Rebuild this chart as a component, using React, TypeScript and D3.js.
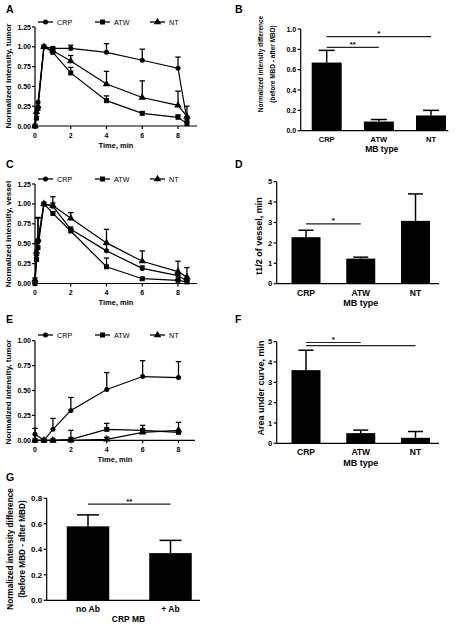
import React from "react";
import * as d3 from "d3";

const FONT = "'Liberation Sans', Arial, Helvetica, sans-serif";

// ---------- line panels (A, C, E) ----------
const seriesNames = ["CRP", "ATW", "NT"];
const seriesShapes = ["circle", "square", "triangle"];
const timeTicks = [0, 2, 4, 6, 8];

const timesAC = [0, 0.083, 0.167, 0.5, 1, 2, 4, 6, 8, 8.5];

// A: tumor
const tumorCRP = [0.0, 0.17, 0.3, 1.0, 0.98, 0.98, 0.93, 0.83, 0.73, 0.08];
const tumorCRPErr = [0, 0, 0, 0, 0.02, 0.04, 0.11, 0.14, 0.14, 0.04];
const tumorATW = [0.0, 0.1, 0.22, 1.0, 0.93, 0.67, 0.32, 0.16, 0.11, 0.03];
const tumorATWErr = [0, 0, 0, 0, 0.01, 0.07, 0.06, 0.02, 0.03, 0.02];
const tumorNT = [0.0, 0.18, 0.25, 1.0, 0.95, 0.82, 0.53, 0.36, 0.26, 0.12];
const tumorNTErr = [0, 0, 0, 0, 0.02, 0.07, 0.16, 0.21, 0.18, 0.13];

// C: vessel
const vesselCRP = [0.02, 0.31, 0.52, 1.0, 0.97, 0.68, 0.41, 0.19, 0.1, 0.03];
const vesselCRPErr = [0, 0.05, 0.3, 0, 0.04, 0.03, 0.08, 0.03, 0.02, 0.02];
const vesselATW = [0.0, 0.3, 0.45, 1.0, 0.88, 0.66, 0.21, 0.06, 0.04, 0.02];
const vesselATWErr = [0, 0.05, 0.1, 0, 0.02, 0.02, 0.11, 0.01, 0.01, 0.01];
const vesselNT = [0.05, 0.4, 0.55, 1.0, 0.98, 0.82, 0.51, 0.28, 0.15, 0.08];
const vesselNTErr = [0.02, 0.1, 0.28, 0, 0.11, 0.07, 0.17, 0.13, 0.13, 0.12];

// E: tumor (accumulation)
const timesE = [0, 0.5, 1, 2, 4, 6, 8];
const accCRP = [0.06, 0.0, 0.11, 0.3, 0.51, 0.64, 0.63];
const accCRPErr = [0.06, 0, 0.11, 0.13, 0.17, 0.16, 0.16];
const accATW = [0.0, 0.0, 0.0, 0.01, 0.11, 0.1, 0.08];
const accATWErr = [0, 0, 0, 0.09, 0.06, 0.05, 0.02];
const accNT = [0.0, 0.0, 0.0, 0.0, 0.01, 0.08, 0.1];
const accNTErr = [0, 0, 0, 0, 0.02, 0.02, 0.08];

const ticks125 = [0, 0.25, 0.5, 0.75, 1.0, 1.25];
const ticks100 = [0, 0.25, 0.5, 0.75, 1.0];

// ---------- bar panels (B, D, F, G) ----------
const mbTypes = ["CRP", "ATW", "NT"];
const diffB = [0.67, 0.09, 0.15];
const diffBErr = [0.12, 0.02, 0.05];
const ticksB = [0, 0.2, 0.4, 0.6, 0.8, 1.0];

const halfLifeD = [2.28, 1.23, 3.08];
const halfLifeDErr = [0.34, 0.07, 1.32];
const ticksD = [0, 1, 2, 3, 4, 5];

const aucF = [3.6, 0.5, 0.27];
const aucFErr = [0.98, 0.15, 0.31];
const ticksF = [0, 1, 2, 3, 4, 5];

const abGroups = ["no Ab", "+ Ab"];
const diffG = [0.58, 0.37];
const diffGErr = [0.09, 0.1];
const ticksG = [0, 0.2, 0.4, 0.6, 0.8];

type Series = { name: string; shape: string; values: number[]; errors: number[] };

function Marker({ shape, cx, cy }: { shape: string; cx: number; cy: number }) {
  const type =
    shape === "circle" ? d3.symbolCircle : shape === "square" ? d3.symbolSquare : d3.symbolTriangle;
  const size = shape === "circle" ? 20 : shape === "square" ? 25 : 24;
  const path = d3.symbol().type(type).size(size)() as string;
  return <path d={path} transform={`translate(${cx},${cy})`} fill="#000" />;
}

function LinePanel(props: any) {
  const {
    letter, letterY, legendY, times, series, yMax, yTicks, yTop, yBottom,
    xLeft, xEight, xEnd, yLabel, yLabelY, tickFmt,
  } = props;
  const x = d3.scaleLinear().domain([0, 8]).range([xLeft, xEight]);
  const y = d3.scaleLinear().domain([0, yMax]).range([yBottom, yTop]);
  const line = d3
    .line<number>()
    .x((_, i) => x(times[i]))
    .y((v) => y(v));
  const legendX = [38, 95, 150];
  return (
    <g>
      <text x={6} y={letterY} fontSize={10.5} fontWeight="bold" fontFamily={FONT}>{letter}</text>
      {/* legend */}
      {series.map((s: Series, i: number) => (
        <g key={s.name}>
          <line x1={legendX[i]} x2={legendX[i] + 15} y1={legendY} y2={legendY} stroke="#000" strokeWidth={1.3} />
          <Marker shape={s.shape} cx={legendX[i] + 7.5} cy={legendY} />
          <text x={legendX[i] + 19} y={legendY + 2.6} fontSize={7.2} fontFamily={FONT}>{s.name}</text>
        </g>
      ))}
      {/* axes */}
      <line x1={xLeft} x2={xLeft} y1={y(0)} y2={y(yMax)} stroke="#000" strokeWidth={1.2} />
      <line x1={xLeft} x2={xEnd} y1={y(0)} y2={y(0)} stroke="#000" strokeWidth={1.2} />
      {yTicks.map((t: number) => (
        <g key={t}>
          <line x1={xLeft - 3} x2={xLeft} y1={y(t)} y2={y(t)} stroke="#000" strokeWidth={1.2} />
          <text x={xLeft - 4} y={y(t) + 2.5} fontSize={7} fontWeight="bold" textAnchor="end" fontFamily={FONT}>
            {d3.format(tickFmt)(t)}
          </text>
        </g>
      ))}
      {timeTicks.map((t) => (
        <g key={t}>
          <line x1={x(t)} x2={x(t)} y1={y(0)} y2={y(0) + 3} stroke="#000" strokeWidth={1.2} />
          <text x={x(t)} y={y(0) + 11.5} fontSize={7} fontWeight="bold" textAnchor="middle" fontFamily={FONT}>{t}</text>
        </g>
      ))}
      <text x={(xLeft + xEnd) / 2} y={y(0) + 21.5} fontSize={7.5} fontWeight="bold" textAnchor="middle" fontFamily={FONT}>Time, min</text>
      <text transform={`translate(11,${yLabelY}) rotate(-90)`} fontSize={8} fontWeight="bold" textAnchor="middle" fontFamily={FONT}>{yLabel}</text>
      {/* data */}
      {series.map((s: Series) => (
        <g key={s.name}>
          <path d={line(s.values) as string} fill="none" stroke="#000" strokeWidth={1.2} />
          {s.values.map((v, i) =>
            s.errors[i] > 0 ? (
              <g key={i}>
                <line x1={x(times[i])} x2={x(times[i])} y1={y(v)} y2={y(v + s.errors[i])} stroke="#000" strokeWidth={1.3} />
                <line x1={x(times[i]) - 2.7} x2={x(times[i]) + 2.7} y1={y(v + s.errors[i])} y2={y(v + s.errors[i])} stroke="#000" strokeWidth={1.3} />
              </g>
            ) : null
          )}
          {s.values.map((v, i) => (
            <Marker key={i} shape={s.shape} cx={x(times[i])} cy={y(v)} />
          ))}
        </g>
      ))}
    </g>
  );
}

function BarPanel(props: any) {
  const {
    letter, letterX, letterY, cats, values, errors, yMax, yTicks, tickFmt, yTop, yBottom,
    xLeft, xRight, firstCenter, lastCenter, barWidth, capWidth, tickSize, catSize,
    xLabel, xLabelX, xLabelSize, yLabels, yLabelXs, yLabelY, yLabelSize, brackets,
  } = props;
  const x = d3.scalePoint<string>().domain(cats).range([firstCenter, lastCenter]);
  const y = d3.scaleLinear().domain([0, yMax]).range([yBottom, yTop]);
  return (
    <g>
      <text x={letterX} y={letterY} fontSize={10.5} fontWeight="bold" fontFamily={FONT}>{letter}</text>
      {cats.map((c: string, i: number) => {
        const cx = x(c) as number;
        const top = y(values[i]);
        const et = y(values[i] + errors[i]);
        return (
          <g key={c}>
            <rect x={cx - barWidth / 2} y={top} width={barWidth} height={y(0) - top} fill="#000" />
            <line x1={cx} x2={cx} y1={top} y2={et} stroke="#000" strokeWidth={1.5} />
            <line x1={cx - capWidth / 2} x2={cx + capWidth / 2} y1={et} y2={et} stroke="#000" strokeWidth={1.5} />
            <text x={cx} y={y(0) + catSize + 3.5} fontSize={catSize} fontWeight="bold" textAnchor="middle" fontFamily={FONT}>{c}</text>
          </g>
        );
      })}
      <line x1={xLeft} x2={xLeft} y1={y(0)} y2={y(yMax)} stroke="#000" strokeWidth={1.2} />
      <line x1={xLeft} x2={xRight} y1={y(0)} y2={y(0)} stroke="#000" strokeWidth={1.2} />
      {yTicks.map((t: number) => (
        <g key={t}>
          <line x1={xLeft - 3} x2={xLeft} y1={y(t)} y2={y(t)} stroke="#000" strokeWidth={1.2} />
          <text x={xLeft - 4.5} y={y(t) + tickSize * 0.36} fontSize={tickSize} fontWeight="bold" textAnchor="end" fontFamily={FONT}>
            {d3.format(tickFmt)(t)}
          </text>
        </g>
      ))}
      <text x={xLabelX} y={y(0) + catSize + xLabelSize + 5} fontSize={xLabelSize} fontWeight="bold" textAnchor="middle" fontFamily={FONT}>{xLabel}</text>
      {yLabels.map((l: string, i: number) => (
        <text key={l} transform={`translate(${yLabelXs[i]},${yLabelY}) rotate(-90)`} fontSize={yLabelSize} fontWeight="bold" textAnchor="middle" fontFamily={FONT}>{l}</text>
      ))}
      {brackets.map((b: any, i: number) => {
        const x1 = x(b.from) as number;
        const x2 = x(b.to) as number;
        const yy = y(b.level);
        return (
          <g key={i}>
            <line x1={x1} x2={x2} y1={yy} y2={yy} stroke="#222" strokeWidth={1.2} />
            <text x={(x1 + x2) / 2} y={yy - 0.5} fontSize={8} fontWeight="bold" textAnchor="middle" fontFamily={FONT}>{b.label}</text>
          </g>
        );
      })}
    </g>
  );
}

export default function App() {
  const mk = (vals: number[][], errs: number[][]): Series[] =>
    seriesNames.map((n, i) => ({ name: n, shape: seriesShapes[i], values: vals[i], errors: errs[i] }));
  return (
    <svg width={470} height={630} style={{ position: "absolute", left: 0, top: 0, background: "#fff" }}>
      <rect width={470} height={630} fill="#fff" />
      <LinePanel
        letter="A" letterY={13} legendY={22} times={timesAC}
        series={mk([tumorCRP, tumorATW, tumorNT], [tumorCRPErr, tumorATWErr, tumorNTErr])}
        yMax={1.25} yTicks={ticks125} tickFmt=".2f" yTop={27} yBottom={126}
        xLeft={35} xEight={178} xEnd={197}
        yLabel="Normalized intensity, tumor" yLabelY={76}
      />
      <LinePanel
        letter="C" letterY={168} legendY={179} times={timesAC}
        series={mk([vesselCRP, vesselATW, vesselNT], [vesselCRPErr, vesselATWErr, vesselNTErr])}
        yMax={1.25} yTicks={ticks125} tickFmt=".2f" yTop={184} yBottom={283.5}
        xLeft={35} xEight={178} xEnd={197}
        yLabel="Normalized intensity, vessel" yLabelY={234}
      />
      <LinePanel
        letter="E" letterY={323} legendY={335} times={timesE}
        series={mk([accCRP, accATW, accNT], [accCRPErr, accATWErr, accNTErr])}
        yMax={1.0} yTicks={ticks100} tickFmt=".2f" yTop={340.7} yBottom={440.3}
        xLeft={35} xEight={178.5} xEnd={195}
        yLabel="Normalized intensity, tumor" yLabelY={392}
      />
      <BarPanel
        letter="B" letterX={235} letterY={13} cats={mbTypes} values={diffB} errors={diffBErr}
        yMax={1.0} yTicks={ticksB} tickFmt=".1f" yTop={29} yBottom={130.7}
        xLeft={300.7} xRight={448.3} firstCenter={326.7} lastCenter={431} barWidth={30} capWidth={16}
        tickSize={7} catSize={7.5} xLabel="MB type" xLabelX={381.8} xLabelSize={8.5}
        yLabels={["Normalized intensity difference", "(before MBD - after MBD)"]} yLabelXs={[262.5, 275]}
        yLabelY={64} yLabelSize={6.5}
        brackets={[{ from: "CRP", to: "ATW", level: 0.82, label: "**" }, { from: "CRP", to: "NT", level: 0.925, label: "*" }]}
      />
      <BarPanel
        letter="D" letterX={235} letterY={168} cats={mbTypes} values={halfLifeD} errors={halfLifeDErr}
        yMax={5} yTicks={ticksD} tickFmt="d" yTop={181.7} yBottom={283.7}
        xLeft={276.7} xRight={439} firstCenter={306} lastCenter={415.5} barWidth={29} capWidth={15}
        tickSize={7.5} catSize={8.5} xLabel="MB type" xLabelX={360.7} xLabelSize={9}
        yLabels={["t1/2 of vessel, min"]} yLabelXs={[262]} yLabelY={236} yLabelSize={9}
        brackets={[{ from: "CRP", to: "ATW", level: 2.93, label: "*" }]}
      />
      <BarPanel
        letter="F" letterX={235} letterY={323} cats={mbTypes} values={aucF} errors={aucFErr}
        yMax={5} yTicks={ticksF} tickFmt="d" yTop={341.7} yBottom={443.3}
        xLeft={276.7} xRight={439} firstCenter={306} lastCenter={415.5} barWidth={29} capWidth={15}
        tickSize={7.5} catSize={8.5} xLabel="MB type" xLabelX={360.7} xLabelSize={9}
        yLabels={["Area under curve, min"]} yLabelXs={[264]} yLabelY={388} yLabelSize={9}
        brackets={[{ from: "CRP", to: "ATW", level: 4.96, label: "*" }, { from: "CRP", to: "NT", level: 4.81, label: "" }]}
      />
      <BarPanel
        letter="G" letterX={6} letterY={481} cats={abGroups} values={diffG} errors={diffGErr}
        yMax={0.8} yTicks={ticksG} tickFmt=".1f" yTop={498.3} yBottom={600.3}
        xLeft={46.7} xRight={200} firstCenter={88} lastCenter={170.5} barWidth={42.5} capWidth={22}
        tickSize={8} catSize={8.5} xLabel="CRP MB" xLabelX={128.5} xLabelSize={8.5}
        yLabels={["Normalized intensity difference", "(before MBD - after MBD)"]} yLabelXs={[12.5, 25]}
        yLabelY={549} yLabelSize={8.2}
        brackets={[{ from: "no Ab", to: "+ Ab", level: 0.755, label: "**" }]}
      />
    </svg>
  );
}
